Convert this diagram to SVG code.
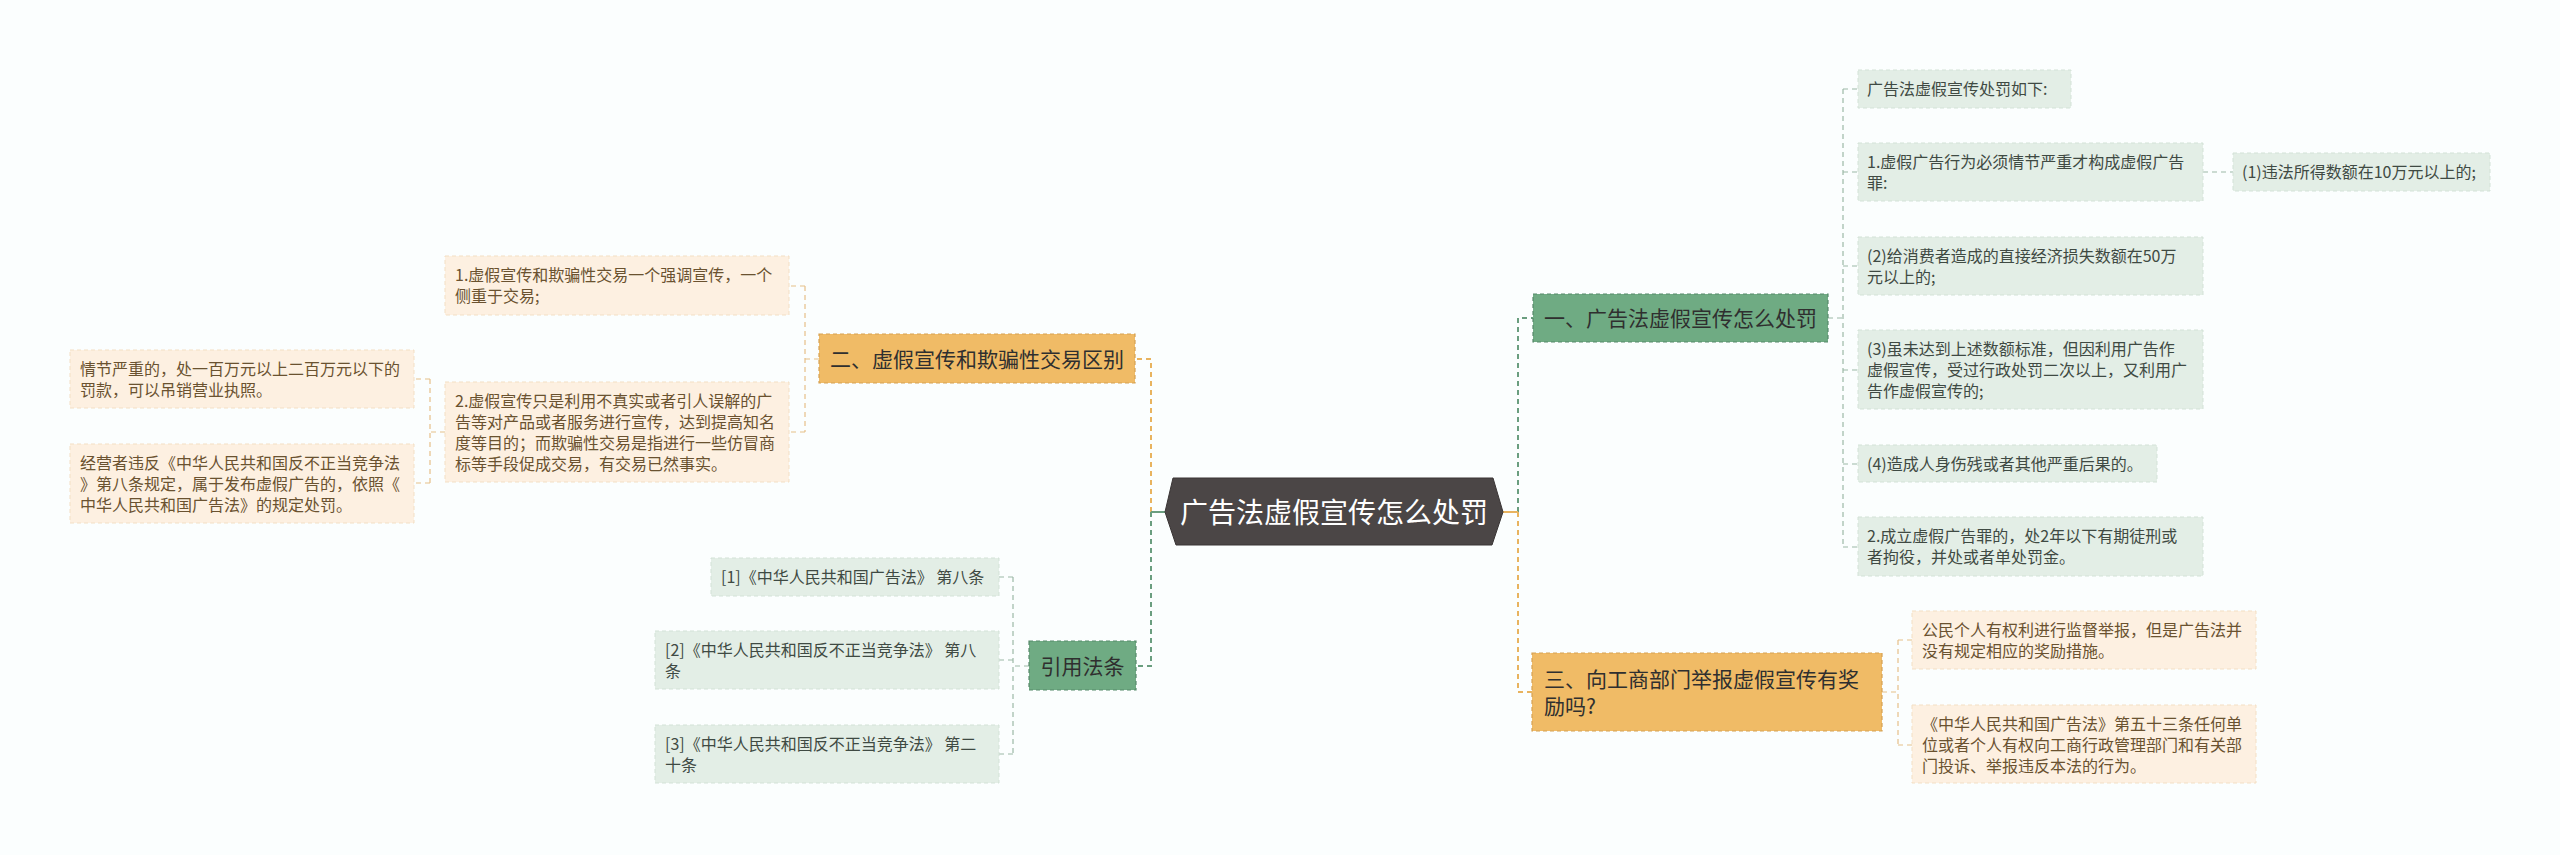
<svg xmlns="http://www.w3.org/2000/svg" width="2560" height="855" viewBox="0 0 2560 855">
<style>
text{font-family:"Noto Sans CJK SC","Liberation Sans",sans-serif;}
.lg{fill:#e3eee6;stroke:#d3e2d7;stroke-width:1;stroke-dasharray:4 3;}
.lo{fill:#fdf0e1;stroke:#f3dfc4;stroke-width:1;stroke-dasharray:4 3;}
.bg{fill:#6fab83;stroke:#56896a;stroke-width:1.2;stroke-dasharray:4 3;}
.bo{fill:#f0bb66;stroke:#d6a152;stroke-width:1.2;stroke-dasharray:4 3;}
.tg{font-size:16px;fill:#3f4a43;}
.to{font-size:16px;fill:#6a5230;}
.tb{font-size:21px;fill:#2f2f2f;}
.cg{fill:none;stroke:#6a9e7f;stroke-width:2;stroke-dasharray:5 4;}
.co{fill:none;stroke:#e8b35f;stroke-width:2;stroke-dasharray:5 4;}
.cgl{fill:none;stroke:#9cb8a6;stroke-width:1.2;stroke-dasharray:5 4;}
.col{fill:none;stroke:#e6bf88;stroke-width:1.2;stroke-dasharray:5 4;}
</style>
<rect x="0" y="0" width="2560" height="855" fill="#fbfefe"/>
<g id="connectors">
  <path class="co" d="M1151 512 V359 H1135"/>
  <path class="cg" d="M1151 512 V666 H1136"/>
  <path d="M1151 512 H1165" stroke="#6a9e7f" stroke-width="2" fill="none"/>
  <path class="cg" d="M1518 512 V318 H1533"/>
  <path class="co" d="M1518 512 V692 H1532"/>
  <path d="M1503 512 H1518" stroke="#e8b35f" stroke-width="2" fill="none"/>
  <path class="cgl" d="M1828 318 H1843 M1843 89 V547 M1843 89 H1858 M1843 172 H1858 M1843 266 H1858 M1843 370 H1858 M1843 464 H1858 M1843 547 H1858"/>
  <path class="cgl" d="M2203 172 H2233"/>
  <path class="col" d="M1882 692 H1898 M1898 640 V745 M1898 640 H1912 M1898 745 H1912"/>
  <path class="col" d="M819 359 H805 M805 286 V432 M805 286 H789 M805 432 H789"/>
  <path class="col" d="M445 432 H430 M430 379 V483 M430 379 H414 M430 483 H414"/>
  <path class="cgl" d="M1029 666 H1013 M1013 577 V754 M1013 577 H999 M1013 660 H999 M1013 754 H999"/>
</g>
<g id="center">
  <polygon points="1173,478 1493,478 1503,512 1492,545 1176,545 1165,512" fill="#4b4646" stroke="#3a3535" stroke-width="1"/>
  <text x="1334" y="523" font-size="28" fill="#ffffff" text-anchor="middle">广告法虚假宣传怎么处罚</text>
</g>
<g id="b1">
  <rect class="bg" x="1533" y="294" width="295" height="48"/>
  <text class="tb" x="1544" y="326">一、广告法虚假宣传怎么处罚</text>
</g>
<g id="b1-1">
  <rect class="lg" x="1858" y="70" width="213" height="38"/>
  <text class="tg" x="1867" y="95">广告法虚假宣传处罚如下:</text>
</g>
<g id="b1-2">
  <rect class="lg" x="1858" y="143" width="345" height="58"/>
  <text class="tg" x="1867" y="167.5">1.虚假广告行为必须情节严重才构成虚假广告</text>
  <text class="tg" x="1867" y="188.5">罪:</text>
</g>
<g id="b1-2-1">
  <rect class="lg" x="2233" y="153" width="257" height="38"/>
  <text class="tg" x="2242" y="178">(1)违法所得数额在10万元以上的;</text>
</g>
<g id="b1-3">
  <rect class="lg" x="1858" y="237" width="345" height="58"/>
  <text class="tg" x="1867" y="261.5">(2)给消费者造成的直接经济损失数额在50万</text>
  <text class="tg" x="1867" y="282.5">元以上的;</text>
</g>
<g id="b1-4">
  <rect class="lg" x="1858" y="330" width="345" height="79"/>
  <text class="tg" x="1867" y="355">(3)虽未达到上述数额标准，但因利用广告作</text>
  <text class="tg" x="1867" y="376">虚假宣传，受过行政处罚二次以上，又利用广</text>
  <text class="tg" x="1867" y="397">告作虚假宣传的;</text>
</g>
<g id="b1-5">
  <rect class="lg" x="1858" y="445" width="299" height="37"/>
  <text class="tg" x="1867" y="469.5">(4)造成人身伤残或者其他严重后果的。</text>
</g>
<g id="b1-6">
  <rect class="lg" x="1858" y="517" width="345" height="59"/>
  <text class="tg" x="1867" y="542">2.成立虚假广告罪的，处2年以下有期徒刑或</text>
  <text class="tg" x="1867" y="563">者拘役，并处或者单处罚金。</text>
</g>
<g id="b3">
  <rect class="bo" x="1532" y="653" width="350" height="78"/>
  <text class="tb" x="1544" y="687">三、向工商部门举报虚假宣传有奖</text>
  <text class="tb" x="1544" y="714">励吗?</text>
</g>
<g id="b3-1">
  <rect class="lo" x="1912" y="611" width="344" height="58"/>
  <text class="to" x="1922" y="635.5">公民个人有权利进行监督举报，但是广告法并</text>
  <text class="to" x="1922" y="656.5">没有规定相应的奖励措施。</text>
</g>
<g id="b3-2">
  <rect class="lo" x="1912" y="705" width="344" height="78"/>
  <text class="to" x="1922" y="730">《中华人民共和国广告法》第五十三条任何单</text>
  <text class="to" x="1922" y="751">位或者个人有权向工商行政管理部门和有关部</text>
  <text class="to" x="1922" y="772">门投诉、举报违反本法的行为。</text>
</g>
<g id="b2">
  <rect class="bo" x="819" y="334" width="316" height="49"/>
  <text class="tb" x="830" y="366.5">二、虚假宣传和欺骗性交易区别</text>
</g>
<g id="b2-1">
  <rect class="lo" x="445" y="256" width="344" height="59"/>
  <text class="to" x="455" y="281">1.虚假宣传和欺骗性交易一个强调宣传，一个</text>
  <text class="to" x="455" y="302">侧重于交易;</text>
</g>
<g id="b2-2">
  <rect class="lo" x="445" y="382" width="344" height="100"/>
  <text class="to" x="455" y="406.5">2.虚假宣传只是利用不真实或者引人误解的广</text>
  <text class="to" x="455" y="427.5">告等对产品或者服务进行宣传，达到提高知名</text>
  <text class="to" x="455" y="448.5">度等目的；而欺骗性交易是指进行一些仿冒商</text>
  <text class="to" x="455" y="469.5">标等手段促成交易，有交易已然事实。</text>
</g>
<g id="b2-2-1">
  <rect class="lo" x="70" y="350" width="344" height="58"/>
  <text class="to" x="80" y="374.5">情节严重的，处一百万元以上二百万元以下的</text>
  <text class="to" x="80" y="395.5">罚款，可以吊销营业执照。</text>
</g>
<g id="b2-2-2">
  <rect class="lo" x="70" y="444" width="344" height="79"/>
  <text class="to" x="80" y="469">经营者违反《中华人民共和国反不正当竞争法</text>
  <text class="to" x="80" y="490">》第八条规定，属于发布虚假广告的，依照《</text>
  <text class="to" x="80" y="511">中华人民共和国广告法》的规定处罚。</text>
</g>
<g id="b4">
  <rect class="bg" x="1029" y="641" width="107" height="49"/>
  <text class="tb" x="1082.5" y="673.5" text-anchor="middle">引用法条</text>
</g>
<g id="b4-1">
  <rect class="lg" x="711" y="558" width="288" height="38"/>
  <text class="tg" x="721" y="583">[1]《中华人民共和国广告法》 第八条</text>
</g>
<g id="b4-2">
  <rect class="lg" x="655" y="631" width="344" height="58"/>
  <text class="tg" x="665" y="655.5">[2]《中华人民共和国反不正当竞争法》 第八</text>
  <text class="tg" x="665" y="676.5">条</text>
</g>
<g id="b4-3">
  <rect class="lg" x="655" y="725" width="344" height="58"/>
  <text class="tg" x="665" y="749.5">[3]《中华人民共和国反不正当竞争法》 第二</text>
  <text class="tg" x="665" y="770.5">十条</text>
</g>
</svg>
